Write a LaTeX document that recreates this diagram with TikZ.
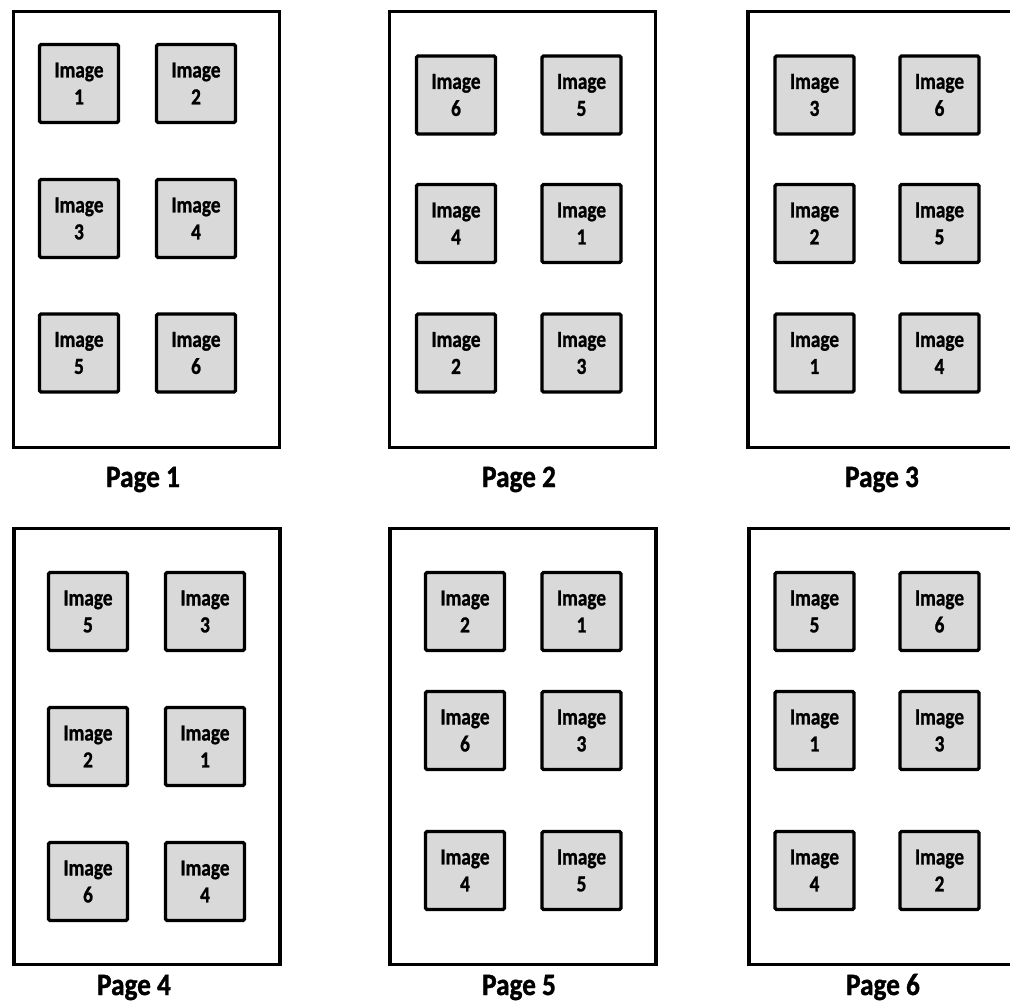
\documentclass[tikz,border=0pt]{standalone}
\usepackage{fontspec}
\setmainfont{Carlito}[BoldFeatures={FakeBold=1.2}]
\definecolor{imggray}{HTML}{D9D9D9}
\newcommand\sqz[1]{\scalebox{0.84}[1]{#1}}
\newcommand\imgnode[4]{\node[imgbox] (#1) at (#2,#3) {\sqz{Image}\\\sqz{#4}};}
\begin{document}
\begin{tikzpicture}[x=1pt,y=-1pt]
\tikzset{
 pagebox/.style={draw=black, line width=3.3pt, fill=white, minimum width=266pt, minimum height=436pt, inner sep=0pt},
 imgbox/.style={draw=black, line width=3.3pt, fill=imggray, rounded corners=1.5pt, minimum width=79pt, minimum height=78pt, inner sep=0pt, align=center, font=\bfseries\fontsize{23}{27}\selectfont},
 pagelabel/.style={anchor=base, inner sep=0pt, font=\bfseries\fontsize{31}{31}\selectfont}
}
\useasboundingbox (0,0) rectangle (1010,1003);
\clip (0,0) rectangle (1010,1003);
% pages
\node[pagebox] (p1) at (146.5,229.5) {};
\node[pagebox] (p2) at (522.5,229.5) {};
\node[pagebox] (p3) at (881,229.5) {};
\node[pagebox] (p4) at (147,746.5) {};
\node[pagebox] (p5) at (523,746.5) {};
\node[pagebox] (p6) at (882,746.5) {};
% page 1
\imgnode{p1a}{79}{83.5}{1}
\imgnode{p1b}{196}{83.5}{2}
\imgnode{p1c}{79}{218.5}{3}
\imgnode{p1d}{196}{218.5}{4}
\imgnode{p1e}{79}{353}{5}
\imgnode{p1f}{196}{353}{6}
% page 2
\imgnode{p2a}{456}{95}{6}
\imgnode{p2b}{581.5}{95}{5}
\imgnode{p2c}{456}{223.5}{4}
\imgnode{p2d}{581.5}{223.5}{1}
\imgnode{p2e}{456}{353}{2}
\imgnode{p2f}{581.5}{353}{3}
% page 3
\imgnode{p3a}{814.5}{95}{3}
\imgnode{p3b}{939.5}{95}{6}
\imgnode{p3c}{814.5}{223.5}{2}
\imgnode{p3d}{939.5}{223.5}{5}
\imgnode{p3e}{814.5}{353}{1}
\imgnode{p3f}{939.5}{353}{4}
% page 4
\imgnode{p4a}{88}{611.5}{5}
\imgnode{p4b}{205}{611.5}{3}
\imgnode{p4c}{88}{746.5}{2}
\imgnode{p4d}{205}{746.5}{1}
\imgnode{p4e}{88}{881.5}{6}
\imgnode{p4f}{205}{881.5}{4}
% page 5
\imgnode{p5a}{465}{611.5}{2}
\imgnode{p5b}{581.5}{611.5}{1}
\imgnode{p5c}{465}{730.5}{6}
\imgnode{p5d}{581.5}{730.5}{3}
\imgnode{p5e}{465}{870.5}{4}
\imgnode{p5f}{581.5}{870.5}{5}
% page 6
\imgnode{p6a}{814.5}{611.5}{5}
\imgnode{p6b}{939.5}{611.5}{6}
\imgnode{p6c}{814.5}{730.5}{1}
\imgnode{p6d}{939.5}{730.5}{3}
\imgnode{p6e}{814.5}{870.5}{4}
\imgnode{p6f}{939.5}{870.5}{2}
% labels
\node[pagelabel] (l1) at (143,487) {\scalebox{0.88}[1]{Page 1}};
\node[pagelabel] (l2) at (519,487) {\scalebox{0.88}[1]{Page 2}};
\node[pagelabel] (l3) at (882,487) {\scalebox{0.88}[1]{Page 3}};
\node[pagelabel] (l4) at (134,995) {\scalebox{0.88}[1]{Page 4}};
\node[pagelabel] (l5) at (519,995) {\scalebox{0.88}[1]{Page 5}};
\node[pagelabel] (l6) at (883,995) {\scalebox{0.88}[1]{Page 6}};
\end{tikzpicture}
\end{document}
